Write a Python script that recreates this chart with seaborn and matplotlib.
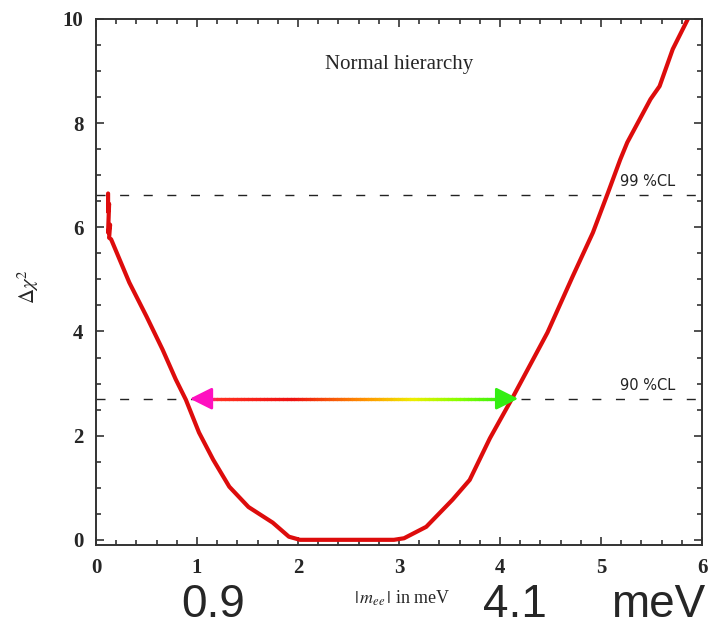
#Delta chi^2 versus |m_ee| (normal hierarchy)

#Import modules
import matplotlib.pyplot as plt
import seaborn as sb
import numpy as np
from matplotlib.collections import LineCollection
from matplotlib.colors import LinearSegmentedColormap
from matplotlib.ticker import MultipleLocator

#Data
m_ee = [0.12, 0.12, 0.13, 0.12, 0.14, 0.13, 0.15, 0.33, 0.50, 0.66, 0.79, 0.89,
        1.02, 1.16, 1.32, 1.51, 1.75, 1.91, 2.02, 2.50, 2.95, 3.05, 3.27, 3.53,
        3.70, 3.90, 4.13, 4.47, 4.72, 4.92, 5.07, 5.19, 5.26, 5.49, 5.58, 5.71,
        5.86, 5.92]
delta_chi2 = [6.65, 6.30, 6.45, 5.90, 6.05, 5.80, 5.77, 4.94, 4.29, 3.65, 3.08, 2.69,
              2.06, 1.54, 1.02, 0.63, 0.33, 0.06, 0.00, 0.00, 0.00, 0.03, 0.25, 0.77,
              1.15, 1.95, 2.75, 3.98, 5.06, 5.90, 6.67, 7.30, 7.63, 8.46, 8.71, 9.42,
              10.00, 10.30]

cl_levels = [6.63, 2.71]
cl_labels = ['99 %CL', '90 %CL']
range_ends = [0.93, 4.18]
range_texts = ['0.9', '4.1', 'meV']

sb.set_style('ticks')
plt.rcParams['font.family'] = ['Liberation Serif', 'DejaVu Serif']
plt.rcParams['mathtext.fontset'] = 'stix'

fig = plt.figure(figsize=(7.13, 6.29), dpi=100)
ax = fig.add_axes([0.1346, 0.1335, 0.85, 0.8363])

#Confidence level lines
for lev, lab in zip(cl_levels, cl_labels):
    ax.axhline(lev, color='#222222', lw=1, dashes=(6.5, 10.5))
    ax.text(5.19, lev + 0.1, lab, fontsize=10.5, family='DejaVu Sans',
            color='#222222', va='bottom')

#Main curve
sb.lineplot(x=m_ee, y=delta_chi2, sort=False, estimator=None, color='#dd0c0c',
            lw=3, ax=ax)

#Rainbow arrow between the 90% CL crossings
grad = LinearSegmentedColormap.from_list('grad', [
    (0.0, '#ff20b0'), (0.06, '#ff3020'), (0.3, '#ee1111'), (0.55, '#ff9900'),
    (0.7, '#eeee00'), (0.85, '#88ff00'), (1.0, '#33ee11')])
xs = np.linspace(range_ends[0] + 0.12, range_ends[1] - 0.12, 80)
pts = np.column_stack([xs, np.full_like(xs, cl_levels[1])]).reshape(-1, 1, 2)
segs = np.concatenate([pts[:-1], pts[1:]], axis=1)
lc = LineCollection(segs, cmap=grad, lw=2.4, zorder=4, capstyle='round')
lc.set_array(np.linspace(0, 1, len(segs)))
ax.add_collection(lc)
head = '-|>,head_length=0.9,head_width=0.45'
ax.annotate('', xy=(range_ends[0], cl_levels[1]), xytext=(range_ends[0] + 0.14, cl_levels[1]),
            arrowprops=dict(arrowstyle=head, color='#ff10c0', lw=2, shrinkA=0, shrinkB=0,
                            mutation_scale=15), zorder=5)
ax.annotate('', xy=(range_ends[1], cl_levels[1]), xytext=(range_ends[1] - 0.14, cl_levels[1]),
            arrowprops=dict(arrowstyle=head, color='#33ee11', lw=2, shrinkA=0, shrinkB=0,
                            mutation_scale=15), zorder=5)

ax.text(3.0, 9.13, 'Normal hierarchy', fontsize=15, ha='center', va='center')

#Axes styling
ax.set_xlim(0, 6)
ax.set_ylim(-0.1, 10)
ax.set_xticks(range(0, 7))
ax.set_yticks(range(0, 11, 2))
ax.xaxis.set_minor_locator(MultipleLocator(0.2))
ax.yaxis.set_minor_locator(MultipleLocator(0.5))
ax.tick_params(which='both', direction='in', top=True, right=True, width=1.2,
               color='#333333', labelsize=15, pad=9)
ax.tick_params(which='major', length=6)
ax.tick_params(which='minor', length=3.5)
for lbl in ax.get_xticklabels() + ax.get_yticklabels():
    lbl.set_fontweight('bold')
for sp in ax.spines.values():
    sp.set_linewidth(1.4)
    sp.set_color('#333333')

fig.text(28 / 713, 1 - 287 / 629, r'$\Delta\chi^2$', rotation=90, fontsize=15,
         ha='center', va='center')
fig.text(402 / 713, 1 - 598 / 629, r'$|\,m_{ee}\,|$ in meV', fontsize=13,
         ha='center', va='center')

#Large range labels under the axes
for xp, t in zip([213, 515, 658], range_texts):
    fig.text(xp / 713, 1 - 617 / 629, t, fontsize=33, family='Liberation Sans',
             ha='center', va='baseline')

plt.savefig('out.png', dpi=100)
